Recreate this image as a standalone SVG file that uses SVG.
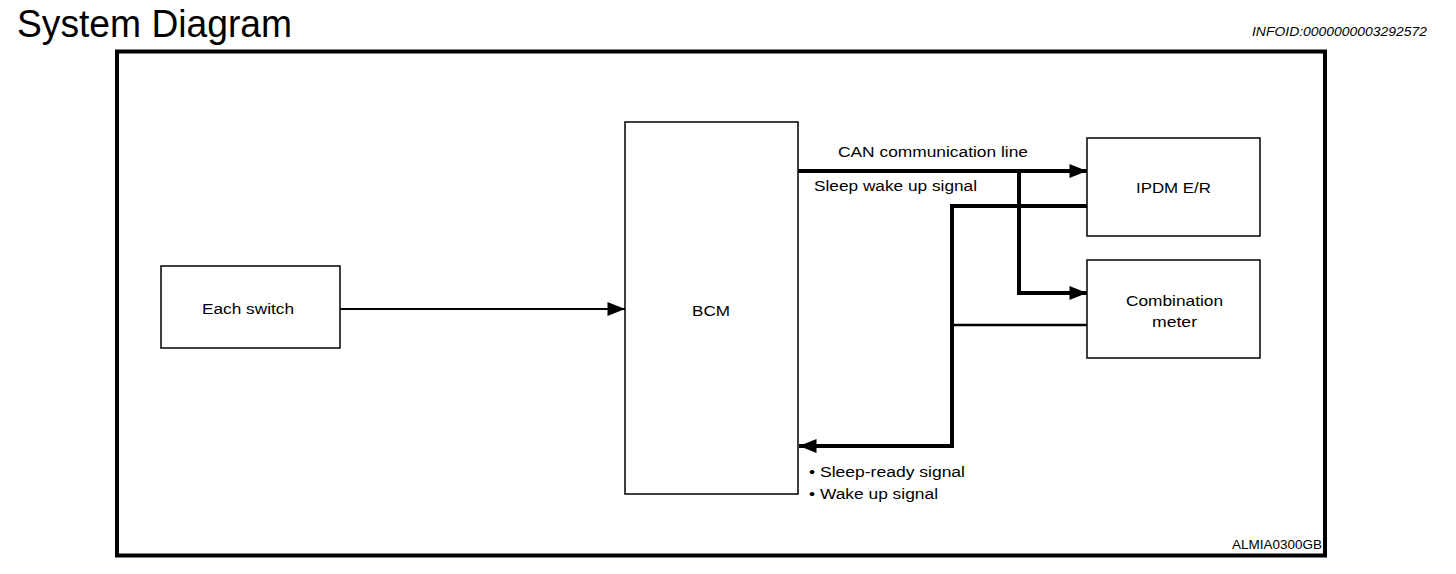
<svg xmlns="http://www.w3.org/2000/svg" width="1456" height="574" viewBox="0 0 1456 574">
<defs>
<style>
text{font-family:"Liberation Sans",Arial,sans-serif;fill:#000}
.box{fill:#fff;stroke:#000;stroke-width:1.5}
.lbl{font-size:15.5px}
.thick{fill:none;stroke:#000;stroke-width:4}
.mid{fill:none;stroke:#000;stroke-width:2.7}
.thin{fill:none;stroke:#000;stroke-width:2}
</style>
<marker id="ah" viewBox="0 0 10 8" refX="10" refY="4" markerUnits="userSpaceOnUse" markerWidth="23" markerHeight="14" orient="auto"><path d="M0,0 L10,4 L0,8 Z" fill="#000"/></marker>
</defs>
<rect width="1456" height="574" fill="#fff"/>
<text x="17" y="37" font-size="38" textLength="275" lengthAdjust="spacingAndGlyphs">System Diagram</text>
<text x="1252" y="36" font-size="12.5" font-style="italic" textLength="175" lengthAdjust="spacingAndGlyphs">INFOID:0000000003292572</text>
<rect x="117" y="51.5" width="1208" height="504" fill="none" stroke="#000" stroke-width="4"/>
<text x="1232" y="549" font-size="12" textLength="90" lengthAdjust="spacingAndGlyphs">ALMIA0300GB</text>
<g id="connectors">
<line class="thin" x1="340" y1="309" x2="625" y2="309" marker-end="url(#ah)"/>
<line class="thick" x1="798" y1="171" x2="1087" y2="171" marker-end="url(#ah)"/>
<polyline class="thick" points="1019,171 1019,293 1087,293" marker-end="url(#ah)"/>
<polyline class="thick" points="1087,206 952,206 952,446 799,446" marker-end="url(#ah)"/>
<line class="mid" x1="952" y1="325" x2="1087" y2="325"/>
<text class="lbl" x="838" y="157" textLength="190" lengthAdjust="spacingAndGlyphs">CAN communication line</text>
<text class="lbl" x="814" y="191" textLength="163" lengthAdjust="spacingAndGlyphs">Sleep wake up signal</text>
<text class="lbl" x="809" y="477" textLength="156" lengthAdjust="spacingAndGlyphs">• Sleep-ready signal</text>
<text class="lbl" x="809" y="499" textLength="129" lengthAdjust="spacingAndGlyphs">• Wake up signal</text>
</g>
<g id="each-switch"><rect class="box" x="161" y="266" width="179" height="82"/><text class="lbl" x="202" y="314" textLength="92" lengthAdjust="spacingAndGlyphs">Each switch</text></g>
<g id="bcm"><rect class="box" x="625" y="122" width="173" height="372"/><text class="lbl" x="692" y="316" textLength="38" lengthAdjust="spacingAndGlyphs">BCM</text></g>
<g id="ipdm"><rect class="box" x="1087" y="138" width="173" height="98"/><text class="lbl" x="1136" y="193" textLength="75" lengthAdjust="spacingAndGlyphs">IPDM E/R</text></g>
<g id="combination-meter"><rect class="box" x="1087" y="260" width="173" height="98"/><text class="lbl" x="1126" y="306" textLength="97" lengthAdjust="spacingAndGlyphs">Combination</text><text class="lbl" x="1152" y="327" textLength="45" lengthAdjust="spacingAndGlyphs">meter</text></g>
</svg>
